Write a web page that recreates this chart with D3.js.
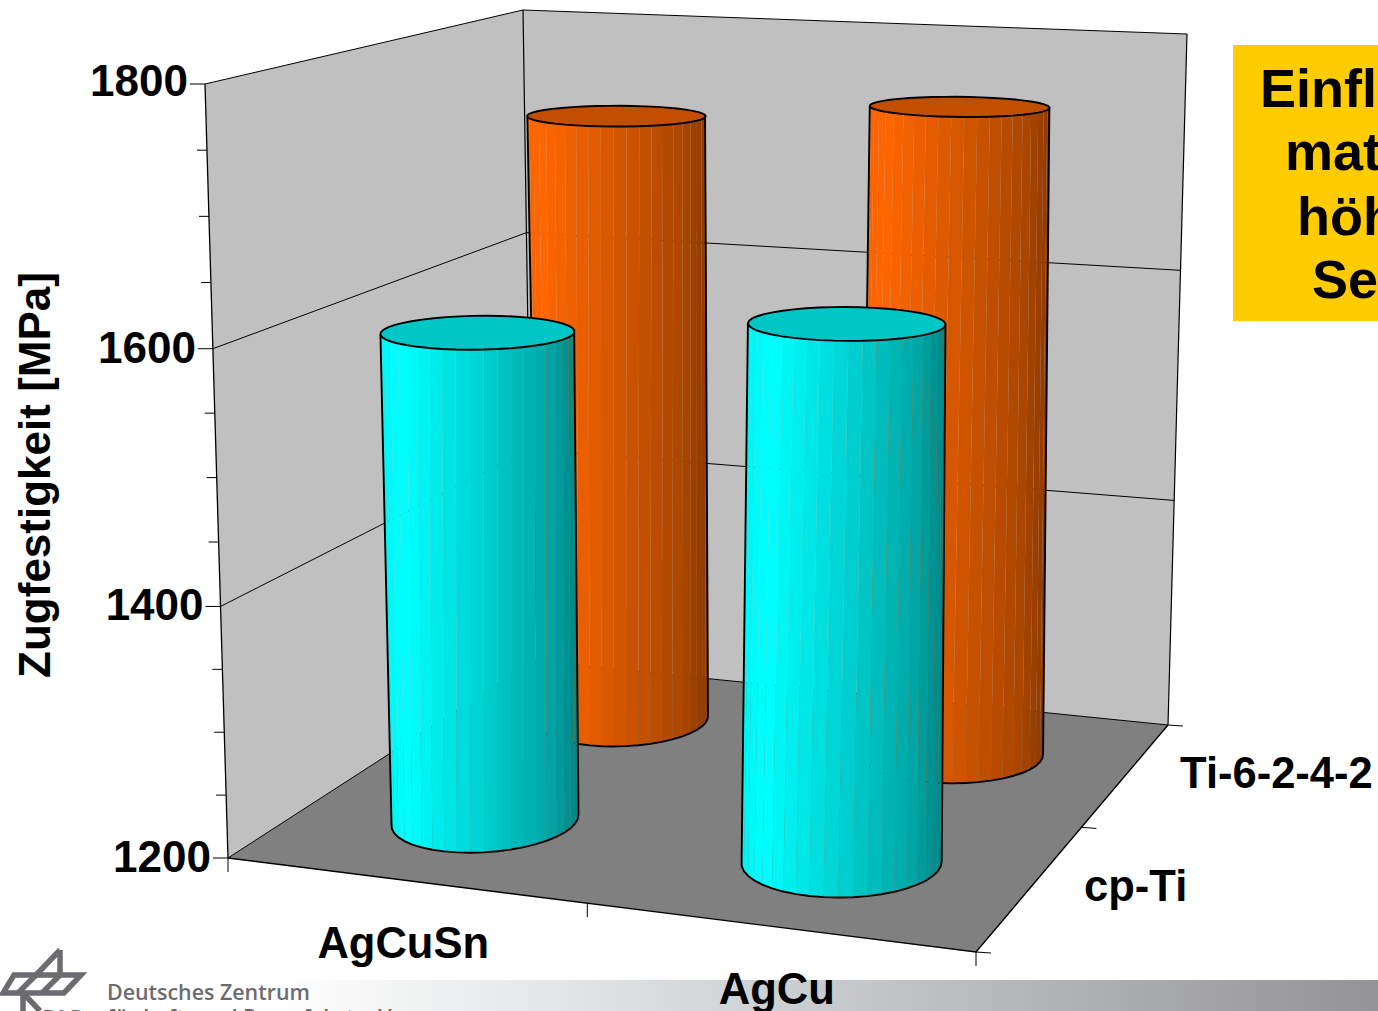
<!DOCTYPE html>
<html>
<head>
<meta charset="utf-8">
<style>
html,body{margin:0;padding:0;background:#fff;overflow:hidden}
svg{display:block}
text{font-family:"Liberation Sans",Arial,sans-serif;font-weight:bold;fill:#000}
</style>
<script src="https://cdnjs.cloudflare.com/ajax/libs/d3/7.8.5/d3.min.js"></script>
</head>
<body>
<svg id="chart" width="1378" height="1011"></svg>
<script>
// Tensile strength by braze filler (columns) and titanium grade (rows)
const categories = ["AgCuSn", "AgCu"];
const seriesNames = ["Ti-6-2-4-2", "cp-Ti"];
const ti6242Values = [1728, 1748];
const cpTiValues = [1594, 1618];
const tickValues = [1200, 1400, 1600, 1800];
const minorTickValues = [1250, 1300, 1350, 1450, 1500, 1550, 1650, 1700, 1750];

// Box corners on screen: front-left, front-right, back-right, back-left
const floorQuad = [[228,858],[976,952],[1168,725],[533,661]];
const ceilQuad  = [[205,84],[995,110],[1187,34],[523,10]];

function homography(q){
  const [[x0,y0],[x1,y1],[x2,y2],[x3,y3]] = q;
  const dx1=x1-x2, dx2=x3-x2, sx=x0-x1+x2-x3;
  const dy1=y1-y2, dy2=y3-y2, sy=y0-y1+y2-y3;
  const det=dx1*dy2-dx2*dy1;
  const g=(sx*dy2-dx2*sy)/det, h=(dx1*sy-sx*dy1)/det;
  const a=x1-x0+g*x1, b=x3-x0+h*x3, d=y1-y0+g*y1, e=y3-y0+h*y3;
  return (u,v)=>{
    const w=g*u+h*v+1;
    return [(a*u+b*v+x0)/w,(d*u+e*v+y0)/w];
  };
}
const floorH = homography(floorQuad), ceilH = homography(ceilQuad);

// Height fraction of the box; the piecewise domain carries the perspective foreshortening
const valueScale = d3.scaleLinear().domain(tickValues).range([0,0.325,0.658,1]);
const catScale = d3.scalePoint().domain(categories).range([0.247,0.746]);
const serScale = d3.scalePoint().domain(seriesNames).range([0.758,0.26]);
// Label anchors stay on the even division of the floor
const catLabelScale = d3.scalePoint().domain(categories).range([0.25,0.75]);
const serLabelScale = d3.scalePoint().domain(seriesNames).range([0.758,0.258]);

function project(u,v,value){
  const t=valueScale(value), a=floorH(u,v), b=ceilH(u,v);
  return [a[0]+(b[0]-a[0])*t, a[1]+(b[1]-a[1])*t];
}

const svg=d3.select("#chart");
const line=d3.line();
const poly=p=>line(p)+"Z";
const defs=svg.append("defs");

// Footer band and logo
const grad=defs.append("linearGradient").attr("id","band");
[[0.2,"#ffffff"],[0.5,"#d6d9db"],[0.75,"#b3b5b8"],[1,"#949398"]].forEach(([o,c])=>
  grad.append("stop").attr("offset",o).attr("stop-color",c));
svg.append("rect").attr("x",0).attr("y",980).attr("width",1378).attr("height",31).attr("fill","url(#band)");

const logo=svg.append("g").attr("fill","none").attr("stroke","#6b6b70").attr("stroke-width",5.5);
logo.append("path").attr("d",poly([[14,975],[81,975],[64,993],[3,993]]));
[
  [[60,950],[60,975]],
  [[60,950],[36,975],[18,993]],
  [[60,975],[42,993]],
  [[23,993],[23,1011]],
  [[23,993],[40,1011]],
].forEach(p=>logo.append("path").attr("d",line(p)));
const footerText=(x,y,t,w)=>svg.append("text").attr("x",x).attr("y",y).attr("font-size",21.4)
  .style("font-family","'Open Sans'").style("font-weight",w).style("fill","#6b6b70").text(t);
footerText(107,1000,"Deutsches Zentrum","600");
footerText(107,1025,"für Luft- und Raumfahrt e.V.","600");
footerText(42,1025,"DLR","700");

// Walls and floor
const vMin=tickValues[0], vMax=tickValues[tickValues.length-1];
const wallColor="#c0c0c0", floorColor="#808080";
const box=svg.append("g");
box.append("path").attr("d",poly([project(0,0,vMin),project(0,1,vMin),project(0,1,vMax),project(0,0,vMax)]))
  .attr("fill",wallColor);
box.append("path").attr("d",poly([project(0,1,vMin),project(1,1,vMin),project(1,1,vMax),project(0,1,vMax)]))
  .attr("fill",wallColor);
box.append("path").attr("d",poly([project(0,0,vMin),project(1,0,vMin),project(1,1,vMin),project(0,1,vMin)]))
  .attr("fill",floorColor);

// Gridlines and box edges
const thin=(p,w=1)=>box.append("path").attr("d",line(p)).attr("fill","none").attr("stroke","#000").attr("stroke-width",w);
tickValues.forEach(val=>thin([project(0,0,val),project(0,1,val),project(1,1,val)]));
thin([project(0,0,vMin),project(0,0,vMax)],1.3);
thin([project(0,1,vMin),project(0,1,vMax)],1.2);
thin([project(1,1,vMin),project(1,1,vMax)],1.2);
thin([project(0,0,vMin),project(1,0,vMin),project(1,1,vMin)],1.4);

// Ticks
tickValues.forEach(val=>{const p=project(0,0,val);thin([[p[0]-15,p[1]],p]);});
minorTickValues.forEach(val=>{const p=project(0,0,val);thin([[p[0]-10,p[1]],p]);});
[0,0.5,1].forEach(u=>{const p=project(u,0,vMin);thin([p,[p[0],p[1]+14]]);});
[0,0.5,1].forEach(v=>{const p=project(1,v,vMin);thin([p,[p[0]+15,p[1]+1]]);});

// Cylinders: one ring of full-height facets, shaded left to right
const segments=44;
const radiusUByCategory=d3.scaleOrdinal().domain(categories).range([0.121,0.127]);
const radiusVBottom=0.14, radiusVTop=0.115, leanU=-0.019;
const ramps={
  "Ti-6-2-4-2":{ramp:d3.scaleLinear().domain([0,0.1,0.5,0.85,1]).range(["#f56200","#ff6600","#d45600","#ac4600","#8c3a00"]),top:"#c24f00"},
  "cp-Ti":{ramp:d3.scaleLinear().domain([0,0.12,0.5,0.85,1]).range(["#00f2f2","#00ffff","#00d2d2","#00a6a6","#008484"]),top:"#00c6c6"}
};
function drawCylinder(cat,ser,value){
  const cu=catScale(cat), cv=serScale(ser), ru=radiusUByCategory(cat);
  const ring=val=>{
    const t=valueScale(val), rv=radiusVBottom+(radiusVTop-radiusVBottom)*t;
    return d3.range(segments).map(i=>{
      const a=2*Math.PI*i/segments+0.03;
      return project(cu+leanU*t+ru*Math.cos(a),cv+rv*Math.sin(a),val);
    });
  };
  const base=ring(vMin), head=ring(value);
  const xs=base.concat(head).map(d=>d[0]);
  const shade=d3.scaleLinear().domain(d3.extent(xs)).range([0,1]);
  const g=svg.append("g");
  const front=d3.range(segments).filter(i=>base[(i+1)%segments][0]>base[i][0]);
  front.forEach(i=>{
    const j=(i+1)%segments;
    const fill=ramps[ser].ramp(shade((base[i][0]+base[j][0]+head[i][0]+head[j][0])/4));
    g.append("path").attr("d",poly([base[i],base[j],head[j],head[i]])).attr("fill",fill);
  });
  g.append("path").attr("d",poly(head)).attr("fill",ramps[ser].top);
  // Silhouette: walk the visible arc from its left end to its right end
  const start=front.find(i=>!front.includes((i-1+segments)%segments));
  const arc=d3.range(front.length+1).map(k=>(start+k)%segments);
  const outline=[head[arc[0]]].concat(arc.map(i=>base[i])).concat([head[arc[arc.length-1]]]);
  g.append("path").attr("d",line(outline)).attr("fill","none").attr("stroke","#000").attr("stroke-width",1.9);
  g.append("path").attr("d",poly(head)).attr("fill","none").attr("stroke","#000").attr("stroke-width",1.9);
}
categories.forEach((c,i)=>drawCylinder(c,"Ti-6-2-4-2",ti6242Values[i]));
categories.forEach((c,i)=>drawCylinder(c,"cp-Ti",cpTiValues[i]));

// Axis labels
const labelSize=43.5;
tickValues.forEach(val=>{
  const p=project(0,0,val);
  svg.append("text").attr("x",p[0]-17).attr("y",p[1]+(val===vMax?12:14)).attr("text-anchor","end").attr("font-size",44).text(val);
});
categories.forEach(c=>{
  const p=project(catLabelScale(c),0,vMin);
  svg.append("text").attr("x",p[0]-1).attr("y",p[1]+(c===categories[0]?78:77)).attr("text-anchor","middle").attr("font-size",labelSize).text(c);
});
seriesNames.forEach(s=>{
  const p=project(1,serLabelScale(s),vMin);
  svg.append("text").attr("x",p[0]+(s===seriesNames[0]?52:51)).attr("y",p[1]+(s===seriesNames[0]?16:17)).attr("font-size",labelSize).text(s);
});
svg.append("text").attr("transform","translate(50,475) rotate(-90)").attr("text-anchor","middle")
  .attr("font-size",44).text("Zugfestigkeit [MPa]");

// Note box running off the right edge
svg.append("rect").attr("x",1233).attr("y",45).attr("width",145).attr("height",276).attr("fill","#ffcc00");
const noteLines=[["Einfl",1260,107],["mat",1285,170],["höh",1297,235],["Se",1312,298]];
noteLines.forEach(([t,x,y])=>svg.append("text").attr("x",x).attr("y",y).attr("font-size",54).text(t));
</script>
</body>
</html>
